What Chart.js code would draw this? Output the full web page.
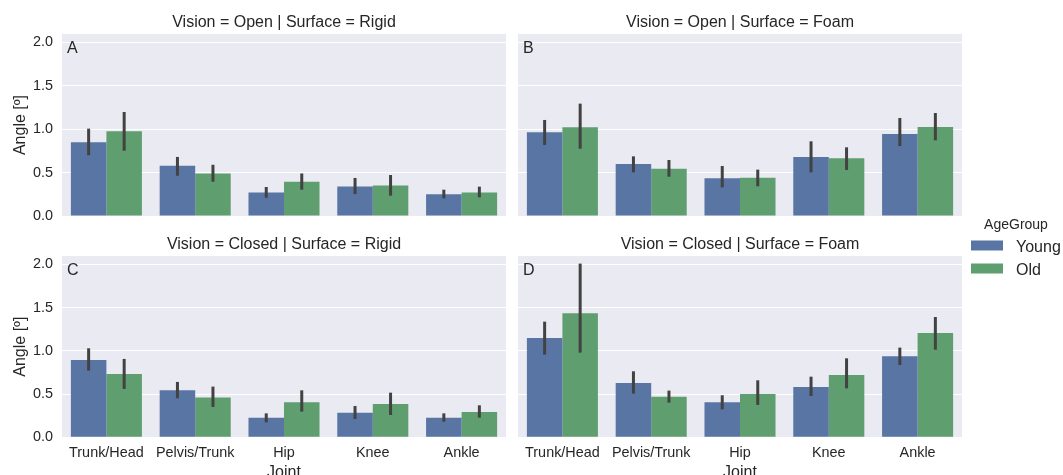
<!DOCTYPE html>
<html><head><meta charset="utf-8">
<script src="https://cdn.jsdelivr.net/npm/chart.js@4"></script>
<style>
html,body{margin:0;padding:0;background:#fff;}
#wrap{position:relative;width:1063px;height:475px;overflow:hidden;}
canvas{position:absolute;left:0;top:0;}
</style></head><body>
<div id="wrap">
<canvas id="pA" width="1063" height="475"></canvas>
<canvas id="pB" width="1063" height="475"></canvas>
<canvas id="pC" width="1063" height="475"></canvas>
<canvas id="pD" width="1063" height="475"></canvas>
</div>
<script>
// Categories, groups and axis ticks
const joints = ['Trunk/Head', 'Pelvis/Trunk', 'Hip', 'Knee', 'Ankle'];
const groups = ['Young', 'Old'];
const yTicks = [0, 0.5, 1.0, 1.5, 2.0];
const yMax = 2.096;

// Vision = Open | Surface = Rigid
const openRigidYoung   = [0.85, 0.58, 0.27, 0.34, 0.25];
const openRigidOld     = [0.975, 0.49, 0.395, 0.35, 0.27];
const openRigidYoungCI = [[0.70, 1.006], [0.464, 0.68], [0.21, 0.334], [0.253, 0.438], [0.203, 0.303]];
const openRigidOldCI   = [[0.752, 1.198], [0.395, 0.59], [0.303, 0.49], [0.234, 0.472], [0.215, 0.338]];

// Vision = Open | Surface = Foam
const openFoamYoung   = [0.964, 0.60, 0.434, 0.68, 0.944];
const openFoamOld     = [1.021, 0.545, 0.44, 0.664, 1.025];
const openFoamYoungCI = [[0.818, 1.106], [0.503, 0.687], [0.33, 0.576], [0.503, 0.86], [0.806, 1.129]];
const openFoamOldCI   = [[0.775, 1.294], [0.453, 0.645], [0.342, 0.534], [0.53, 0.791], [0.871, 1.186]];

// Vision = Closed | Surface = Rigid
const closedRigidYoung   = [0.894, 0.543, 0.227, 0.285, 0.227];
const closedRigidOld     = [0.732, 0.459, 0.405, 0.385, 0.293];
const closedRigidYoungCI = [[0.771, 1.029], [0.451, 0.64], [0.173, 0.277], [0.212, 0.362], [0.181, 0.277]];
const closedRigidOldCI   = [[0.559, 0.906], [0.351, 0.586], [0.297, 0.543], [0.258, 0.516], [0.227, 0.37]];

// Vision = Closed | Surface = Foam
const closedFoamYoung   = [1.148, 0.628, 0.405, 0.582, 0.936];
const closedFoamOld     = [1.434, 0.47, 0.501, 0.721, 1.206];
const closedFoamYoungCI = [[0.956, 1.337], [0.505, 0.763], [0.324, 0.486], [0.478, 0.701], [0.836, 1.037]];
const closedFoamOldCI   = [[0.979, 2.008], [0.401, 0.54], [0.374, 0.659], [0.566, 0.913], [1.013, 1.391]];

const colYoung = '#5875A4';
const colOld = '#5F9E6E';
const errColor = '#424242';
const txtColor = '#262626';
const FONT = '"Liberation Sans", Arial, sans-serif';
const W = 1063, H = 475;

// Panel drawing: background, error bars, titles, letters, axis titles, legend
const facetPlugin = {
  id: 'facet',
  beforeDraw(chart, args, o) {
    const a = chart.chartArea, ctx = chart.ctx;
    ctx.save();
    ctx.fillStyle = '#EAEAF2';
    ctx.fillRect(a.left, a.top, a.right - a.left, a.bottom - a.top);
    ctx.restore();
  },
  afterDatasetsDraw(chart, args, o) {
    const ctx = chart.ctx, ys = chart.scales.y;
    ctx.save();
    ctx.strokeStyle = errColor;
    ctx.lineWidth = 3;
    ctx.lineCap = 'butt';
    chart.data.datasets.forEach((ds, di) => {
      const meta = chart.getDatasetMeta(di);
      meta.data.forEach((bar, i) => {
        const ci = ds.ci[i];
        ctx.beginPath();
        ctx.moveTo(bar.x, ys.getPixelForValue(ci[0]));
        ctx.lineTo(bar.x, ys.getPixelForValue(ci[1]));
        ctx.stroke();
      });
    });
    ctx.restore();
  },
  afterDraw(chart, args, o) {
    const a = chart.chartArea, ctx = chart.ctx;
    const cx = (a.left + a.right) / 2;
    ctx.save();
    ctx.fillStyle = txtColor;
    ctx.textBaseline = 'alphabetic';
    ctx.font = '16px ' + FONT;
    ctx.textAlign = 'center';
    ctx.fillText(o.title, cx, a.top - 7);
    ctx.textAlign = 'left';
    ctx.fillText(o.letter, a.left + 5, a.top + 19);
    if (o.yTitle) {
      ctx.save();
      ctx.translate(25, (a.top + a.bottom) / 2);
      ctx.rotate(-Math.PI / 2);
      ctx.textAlign = 'center';
      ctx.fillText('Angle [º]', 0, 0);
      ctx.restore();
    }
    if (o.xTitle) {
      ctx.textAlign = 'center';
      ctx.fillText('Joint', cx, 477);
    }
    if (o.legend) {
      ctx.font = '14px ' + FONT;
      ctx.textAlign = 'center';
      ctx.fillText('AgeGroup', 1016, 229);
      ctx.font = '16px ' + FONT;
      ctx.textAlign = 'left';
      [colYoung, colOld].forEach((c, k) => {
        const y = 240.5 + k * 23;
        ctx.fillStyle = c;
        ctx.fillRect(971, y, 32, 10);
        ctx.fillStyle = txtColor;
        ctx.fillText(groups[k], 1016, y + 11);
      });
    }
    ctx.restore();
  }
};

function makePanel(id, box, young, old, youngCI, oldCI, opts) {
  const yw = 62, xh = 30;
  new Chart(document.getElementById(id), {
    type: 'bar',
    data: {
      labels: joints,
      datasets: [
        { label: groups[0], data: young, ci: youngCI, backgroundColor: colYoung, borderWidth: 0 },
        { label: groups[1], data: old, ci: oldCI, backgroundColor: colOld, borderWidth: 0 }
      ]
    },
    options: {
      responsive: false,
      animation: false,
      devicePixelRatio: 1,
      events: [],
      categoryPercentage: 0.8,
      barPercentage: 1.0,
      layout: {
        padding: { left: box.l - yw, top: box.t, right: W - box.r, bottom: H - box.b - xh }
      },
      plugins: {
        legend: { display: false },
        title: { display: false },
        tooltip: { enabled: false },
        facet: opts
      },
      scales: {
        x: {
          type: 'category',
          offset: true,
          grid: { display: false, drawTicks: false },
          border: { display: false },
          ticks: {
            display: opts.xTicks,
            autoSkip: false,
            maxRotation: 0,
            padding: 7,
            color: txtColor,
            font: { family: FONT, size: 14.4 }
          },
          afterFit(s) { s.height = xh; }
        },
        y: {
          min: 0,
          max: yMax,
          afterBuildTicks(s) { s.ticks = yTicks.map(v => ({ value: v })); },
          grid: { color: '#ffffff', lineWidth: 1, drawTicks: false },
          border: { display: false },
          ticks: {
            display: opts.yTicks,
            padding: 9,
            color: txtColor,
            font: { family: FONT, size: 14.4 },
            callback: v => Number(v).toFixed(1)
          },
          afterFit(s) { s.width = yw; }
        }
      }
    },
    plugins: [facetPlugin]
  });
}

const topBox = { t: 34, b: 216 }, botBox = { t: 256, b: 437.3 };
const leftX = { l: 62, r: 506 }, rightX = { l: 518, r: 962 };

makePanel('pA', { ...leftX, ...topBox }, openRigidYoung, openRigidOld, openRigidYoungCI, openRigidOldCI,
  { title: 'Vision = Open | Surface = Rigid', letter: 'A', yTitle: true, xTitle: false, legend: false, xTicks: false, yTicks: true });
makePanel('pB', { ...rightX, ...topBox }, openFoamYoung, openFoamOld, openFoamYoungCI, openFoamOldCI,
  { title: 'Vision = Open | Surface = Foam', letter: 'B', yTitle: false, xTitle: false, legend: true, xTicks: false, yTicks: false });
makePanel('pC', { ...leftX, ...botBox }, closedRigidYoung, closedRigidOld, closedRigidYoungCI, closedRigidOldCI,
  { title: 'Vision = Closed | Surface = Rigid', letter: 'C', yTitle: true, xTitle: true, legend: false, xTicks: true, yTicks: true });
makePanel('pD', { ...rightX, ...botBox }, closedFoamYoung, closedFoamOld, closedFoamYoungCI, closedFoamOldCI,
  { title: 'Vision = Closed | Surface = Foam', letter: 'D', yTitle: false, xTitle: true, legend: false, xTicks: true, yTicks: false });
</script>
</body></html>
